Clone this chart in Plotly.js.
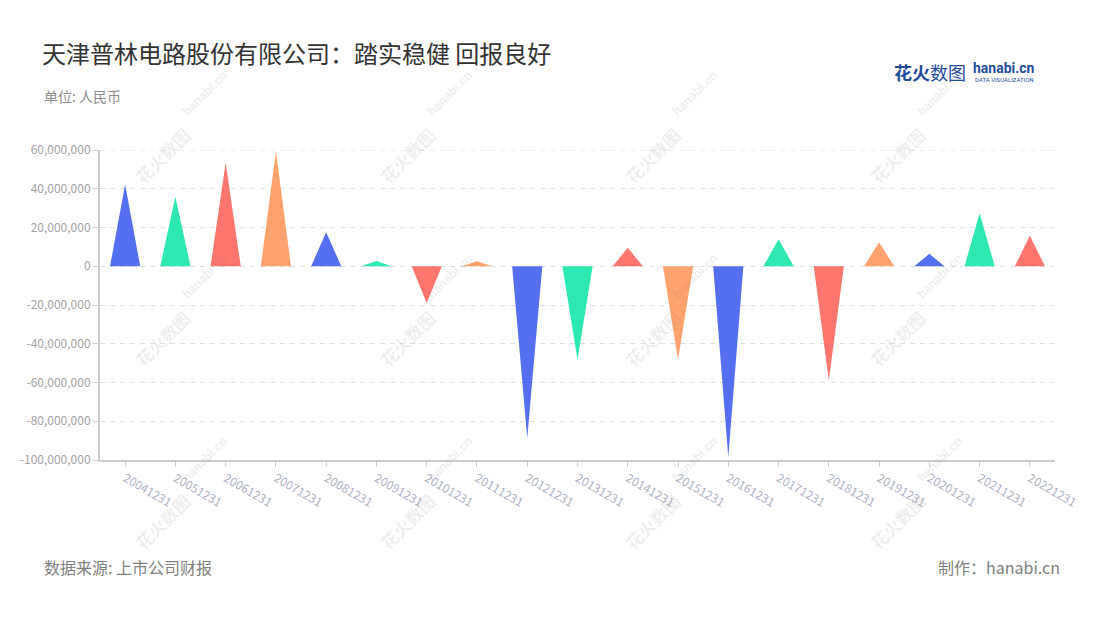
<!DOCTYPE html>
<html><head><meta charset="utf-8">
<script src="https://cdn.plot.ly/plotly-3.0.1.min.js"></script>
<style>body{margin:0;background:#fff}#chart{width:1100px;height:620px}</style>
</head><body><div id="chart"></div><script>
const categories = ['20041231','20051231','20061231','20071231','20081231','20091231','20101231','20111231','20121231','20131231','20141231','20151231','20161231','20171231','20181231','20191231','20201231','20211231','20221231'];
const values = [42200000, 35900000, 53400000, 59300000, 17600000, 2700000, -19000000, 2600000, -88600000, -48200000, 9500000, -48100000, -98600000, 14000000, -59000000, 12400000, 6400000, 27400000, 15700000];
const yTicks = [60000000, 40000000, 20000000, 0, -20000000, -40000000, -60000000, -80000000, -100000000];
const palette = ['#5470f0', '#2de8b0', '#ff766f', '#ffa26e'];

const FONT = '"Noto Sans CJK SC", "Noto Sans", sans-serif';
const halfWidth = 0.3;

const traces = categories.map((c, i) => ({
  type: 'scatter', mode: 'lines',
  x: [i - halfWidth, i, i + halfWidth, i - halfWidth],
  y: [0, values[i], 0, 0],
  fill: 'toself', fillcolor: palette[i % 4],
  line: {width: 0, color: palette[i % 4]},
  hoverinfo: 'skip', showlegend: false
}));

// pixel -> paper helpers (plot area: x 100..1055, y 150..460)
const L = 100, R = 1055, T = 150, B = 460;
const px = x => (x - L) / (R - L);
const py = y => (B - y) / (B - T);

const annotations = [
  {text: '单位: 人民币', xref: 'paper', yref: 'paper', x: px(42), y: py(96), xanchor: 'left', yanchor: 'middle', showarrow: false, font: {family: FONT, size: 14, color: '#8c8c8c'}},
  {text: '数据来源: 上市公司财报', xref: 'paper', yref: 'paper', x: px(42), y: py(567), xanchor: 'left', yanchor: 'middle', showarrow: false, font: {family: FONT, size: 16, color: '#808080'}},
  {text: '制作：hanabi.cn', xref: 'paper', yref: 'paper', x: px(1062), y: py(567), xanchor: 'right', yanchor: 'middle', showarrow: false, font: {family: FONT, size: 16, color: '#808080'}},
  {text: '<b>花火</b>数图', xref: 'paper', yref: 'paper', x: px(892), y: py(72), xanchor: 'left', yanchor: 'middle', showarrow: false, font: {family: FONT, size: 18, color: '#1f4d9c'}},
  {text: '<b>hanabi.cn</b>', xref: 'paper', yref: 'paper', x: px(971), y: py(68), xanchor: 'left', yanchor: 'middle', showarrow: false, font: {family: 'Roboto, sans-serif', size: 14, color: '#1f4d9c'}},
  {text: 'DATA VISUALIZATION', xref: 'paper', yref: 'paper', x: px(973), y: py(79), xanchor: 'left', yanchor: 'middle', showarrow: false, font: {family: 'Roboto, sans-serif', size: 6, color: '#1f4d9c'}}
];

// faint watermarks
const wmCols = [162, 407, 652, 897];
const wmRows = [155, 338, 521];
wmRows.forEach(wy => wmCols.forEach(wx => {
  annotations.push({text: '<b>花火数图</b>', xref: 'paper', yref: 'paper', x: px(wx), y: py(wy), xanchor: 'center', yanchor: 'middle', textangle: -45, showarrow: false, font: {family: FONT, size: 17, color: 'rgba(120,120,120,0.12)'}});
  annotations.push({text: '<b>hanabi.cn</b>', xref: 'paper', yref: 'paper', x: px(wx + 42), y: py(wy - 62), xanchor: 'center', yanchor: 'middle', textangle: -45, showarrow: false, font: {family: 'Roboto, sans-serif', size: 13, color: 'rgba(120,120,120,0.12)'}});
}));

const layout = {
  width: 1100, height: 620,
  paper_bgcolor: '#ffffff', plot_bgcolor: '#ffffff',
  margin: {l: L, r: 1100 - R, t: T, b: 620 - B, pad: 0},
  title: {text: '天津普林电路股份有限公司：踏实稳健 回报良好', xref: 'container', yref: 'container', x: 42 / 1100, y: 1 - 55 / 620, xanchor: 'left', yanchor: 'middle', font: {family: FONT, size: 24, color: '#333333'}},
  xaxis: {
    range: [-0.5, categories.length - 0.5], tickmode: 'array',
    tickvals: categories.map((c, i) => i), ticktext: categories,
    tickangle: 30, ticks: 'outside', ticklen: 5, tickcolor: '#cccccc', tickwidth: 1,
    showline: true, linecolor: '#cccccc', linewidth: 2, showgrid: false, zeroline: false,
    tickfont: {family: FONT, size: 12, color: '#aeb3c4'}, fixedrange: true
  },
  yaxis: {
    range: [-100000000, 60000000], tickmode: 'array',
    tickvals: yTicks, ticktext: yTicks.map(v => v.toLocaleString('en-US')),
    ticks: 'outside', ticklen: 5, tickcolor: '#cccccc', tickwidth: 1,
    showline: true, linecolor: '#cccccc', linewidth: 2,
    showgrid: true, gridcolor: '#e0e0e0', gridwidth: 1, griddash: '5px,5px', zeroline: false,
    tickfont: {family: FONT, size: 12, color: '#a3a3a3'}, fixedrange: true
  },
  shapes: [{type: 'line', xref: 'paper', yref: 'y', x0: 0, x1: 1, y0: yTicks[0], y1: yTicks[0], layer: 'below', line: {color: '#e0e0e0', width: 1, dash: '5px,5px'}}],
  annotations: annotations,
  showlegend: false
};

Plotly.newPlot('chart', traces, layout, {displayModeBar: false, staticPlot: true});
</script></body></html>
